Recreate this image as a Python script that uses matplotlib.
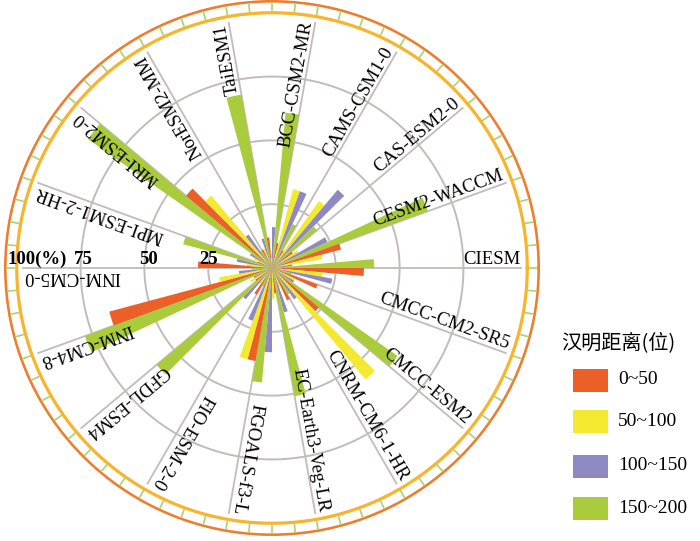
import numpy as np
import matplotlib
matplotlib.use("Agg")
import matplotlib.pyplot as plt
from matplotlib.patches import Rectangle

# models, counter-clockwise from 0 deg (one spoke every 20 deg)
models = ["CIESM", "CESM2-WACCM", "CAS-ESM2-0", "CAMS-CSM1-0", "BCC-CSM2-MR",
          "TaiESM1", "NorESM2-MM", "MRI-ESM2-0", "MPI-ESM1-2-HR", "INM-CM5-0",
          "INM-CM4-8", "GFDL-ESM4", "FIO-ESM-2-0", "FGOALS-f3-L",
          "EC-Earth3-Veg-LR", "CNRM-CM6-1-HR", "CMCC-ESM2", "CMCC-CM2-SR5"]

# share (%) of each hamming distance class per model
d_0_50 = [36, 28, 10, 8, 10, 12, 8, 44, 6, 29, 66, 8, 12, 37, 10, 14, 24, 19]
d_50_100 = [20, 20, 12, 32, 32, 6, 8, 37, 8, 10, 21, 10, 8, 37, 12, 8, 57, 10]
d_100_150 = [24, 8, 24, 40, 32, 16, 12, 16, 10, 14, 13, 8, 16, 22, 33, 18, 15, 10]
d_150_200 = [40, 65, 23, 19, 61, 69, 8, 88, 36, 8, 78, 59, 8, 45, 51, 12, 60, 8]

legend_labels = ["0~50", "50~100", "100~150", "150~200"]
legend_title = "汉明距离(位)"
ring_values = [25, 50, 75]
ring_labels = ["25", "50", "75", "100(%)"]
ring_label_pos = [25, 48.5, 74, 92]

colors = ["#EC6028", "#F3E92E", "#8F89C2", "#A9CB3C"]
grid_col = "#C2BBBA"
serif = "Liberation Serif"

fig = plt.figure(figsize=(7.0, 5.41), dpi=100)
ax = fig.add_axes([4 / 700, 5 / 541, 536 / 700, 536 / 541], projection="polar")
ax.set_ylim(0, 105)
ax.axis("off")

spokes = np.arange(len(models)) * 20.0
w = np.deg2rad(5)

full = np.linspace(0, 2 * np.pi, 500)
for rv in ring_values:
    ax.plot(full, np.full_like(full, rv), color=grid_col, lw=1.4, zorder=1)
for s in spokes:
    ax.plot([0, np.deg2rad(s)], [0, 97.5], color=grid_col, lw=1.3, zorder=1)

# each group: purple, yellow, red, green going counter-clockwise, green just past the spoke
offsets = [-2.5, -7.5, -12.5, 2.5]
series = [d_0_50, d_50_100, d_100_150, d_150_200]
for vals, off, c in zip(series, offsets, colors):
    ax.bar(np.deg2rad(spokes + off), vals, width=w, color=c,
           edgecolor="none", zorder=3)

# outer rim
ax.plot(full, np.full_like(full, 100), color="#F8B42C", lw=2.3, zorder=4)
ax.plot(full, np.full_like(full, 104.6), color="#EF7D2E", lw=2.3, zorder=4)
ticks = np.deg2rad(np.arange(0, 360, 5))
ax.vlines(ticks, 100.5, 104.2, color="#A9D46F", lw=1.2, zorder=4)

for name, s in zip(models, spokes):
    ax.text(np.deg2rad(s), 97.5, name, rotation=s, rotation_mode="anchor",
            ha="right", va="bottom", fontsize=13.5, family=serif, zorder=5)

for lab, r in zip(ring_labels, ring_label_pos):
    ax.text(np.pi, r, lab, ha="center", va="bottom", fontsize=13.5,
            fontweight="bold", family=serif, zorder=5)

# legend drawn in pixel space
lax = fig.add_axes([0, 0, 1, 1])
lax.set_xlim(0, 700)
lax.set_ylim(541, 0)
lax.axis("off")
lax.text(561, 343, legend_title, ha="left", va="center", fontsize=14.5,
         family=["Noto Sans CJK SC", "DejaVu Sans"])
ys = [380, 421.5, 466, 508.5]
for lab, c, y in zip(legend_labels, colors, ys):
    lax.add_patch(Rectangle((573, y - 11.5), 35, 23, facecolor=c, edgecolor="none"))
    lax.text(618, y, lab, ha="left", va="center", fontsize=14, family=serif)

fig.savefig("out.png", dpi=100)
